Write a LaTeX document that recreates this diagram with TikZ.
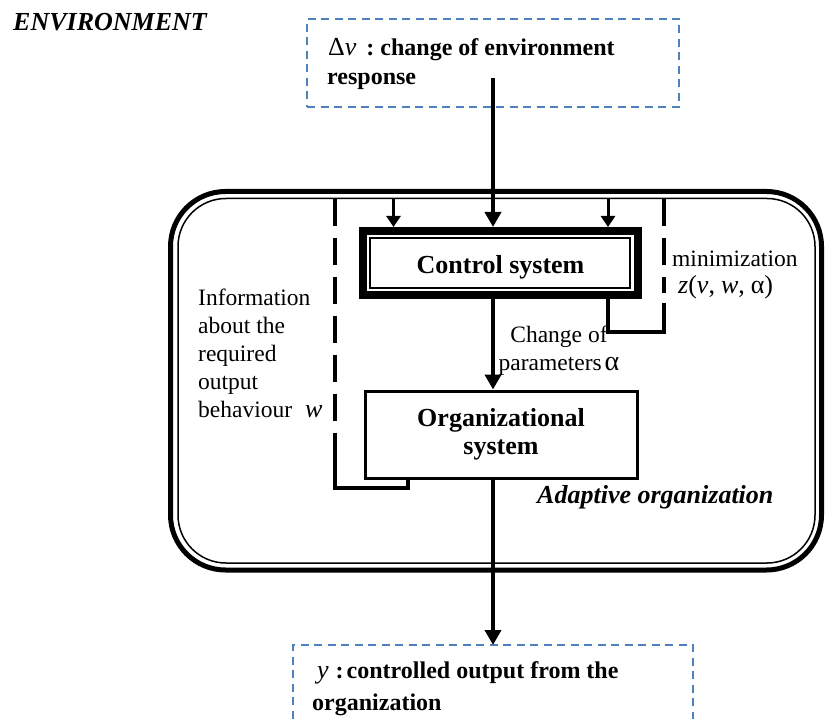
\documentclass[tikz,border=0pt]{standalone}
\usepackage{fontspec}
\setmainfont{Liberation Serif}
\usetikzlibrary{arrows.meta}
\definecolor{dashblue}{RGB}{79,129,189}
\begin{document}
\begin{tikzpicture}[x=1pt,y=-1pt,
  flow/.style={line width=4.5pt,-{Triangle[width=16pt,length=15pt]}},
  side/.style={line width=3pt,-{Triangle[width=14pt,length=11pt]}},
  fb/.style={line width=3.2pt},
  fbdash/.style={line width=3.2pt,dash pattern=on 27pt off 12pt},
  bluebox/.style={draw=dashblue,line width=2pt,dash pattern=on 8pt off 5.5pt,inner sep=0pt,outer sep=0pt},
  txt/.style={inner sep=0pt,font=\fontsize{23.5}{28}\selectfont},
  btxt/.style={inner sep=0pt,font=\fontsize{24}{30}\selectfont\bfseries},
  big/.style={inner sep=0pt,font=\fontsize{26}{28}\selectfont\bfseries},
]
\useasboundingbox (0,0) rectangle (826,719);
\clip (0,0) rectangle (826,719);

% adaptive organization frame
\node[draw,line width=5pt,rounded corners=55pt,minimum width=651pt,minimum height=378.5pt,inner sep=0pt,outer sep=0pt] (adapt) at (496,380.75) {};
\draw[line width=1.5pt,rounded corners=48pt] ([xshift=7.5pt,yshift=-7pt]adapt.north west) rectangle ([xshift=-6.5pt,yshift=7pt]adapt.south east);

% environment boxes
\node[bluebox,minimum width=372pt,minimum height=88pt] (env) at (493,63) {};
\node[bluebox,minimum width=400pt,minimum height=120pt] (outbox) at (493,705) {};

% control and organizational systems
\node[draw,line width=8pt,minimum width=275pt,minimum height=63.5pt,inner sep=0pt,big,text height=22pt,text depth=0pt] (ctrl) at (500.5,262.75) {Control system};
\draw[line width=1.3pt] ([xshift=11pt,yshift=-11pt]ctrl.north west) rectangle ([xshift=-12pt,yshift=10.5pt]ctrl.south east);
\node[draw,line width=3pt,minimum width=272pt,minimum height=87pt,inner sep=0pt,big,align=center] (org) at (501,434.5) {Organizational\\system};

% coordinates
\coordinate (vin) at (493,78);
\coordinate (sl) at (393.5,198.5);
\coordinate (sr) at (608,198.5);
\coordinate (dl) at (335,198.5);
\coordinate (dr) at (664,198.5);

% main flow
\draw[flow] (vin) -- (vin |- ctrl.north);
\draw[side] (sl) -- (sl |- ctrl.north);
\draw[side] (sr) -- (sr |- ctrl.north);
\draw[flow] (ctrl.south -| vin) -- (org.north -| vin);
\draw[flow] (org.south -| vin) -- (outbox.north -| vin);

% feedback loops
\draw[fbdash] (dl) -- (335,460);
\draw[fb] (335,460) -- (335,488) -- (408,488) -- (408,0 |- org.south);
\draw[fb] (ctrl.south -| sr) -- (608,332) -- (664,332) -- (664,303);
\draw[fbdash] (dr) -- (664,293);

% texts
\node[anchor=base west,inner sep=0pt,font=\fontsize{26}{30}\selectfont\bfseries\itshape] (envlabel) at (13,31) {ENVIRONMENT};
\node[btxt,anchor=base west] (envt1) at (328,56) {{\mdseries\fontsize{26}{30}\selectfont Δ\textit{v}}\hspace{10pt}:\hspace{6pt}change of environment};
\node[btxt,anchor=base west] (envt2) at (327,85) {response};
\node[btxt,anchor=base west] (outt1) at (317,678) {{\mdseries\itshape\fontsize{26}{30}\selectfont y}\hspace{7pt}:\hspace{3pt}controlled output from the};
\node[btxt,anchor=base west] (outt2) at (312,710) {organization};
\node[txt,anchor=base west,align=left] (info) at (198,417) {Information\\about the\\required\\output\\behaviour\hspace{13pt}{\itshape\fontsize{26}{28}\selectfont w}};
\node[txt,anchor=base west] (mintxt) at (672,266) {minimization};
\node[anchor=base west,inner sep=0pt,font=\fontsize{26}{30}\selectfont] (zfun) at (678,293) {\textit{z}(\textit{v},\hspace{6pt}\textit{w},\hspace{6pt}α)};
\node[txt,anchor=base,align=center] (chg) at (559,370) {Change of\\parameters\hspace{3pt}{\fontsize{28}{28}\selectfont α}};
\node[anchor=base west,inner sep=0pt,font=\fontsize{26}{30}\selectfont\bfseries\itshape] (adlabel) at (537,503) {Adaptive organization};
\end{tikzpicture}
\end{document}
